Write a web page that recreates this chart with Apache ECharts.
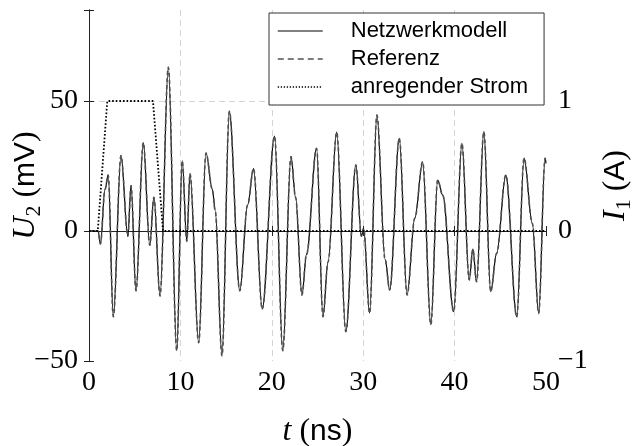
<!DOCTYPE html>
<html><head><meta charset="utf-8">
<script src="https://cdn.jsdelivr.net/npm/echarts@6/dist/echarts.min.js"></script>
<style>html,body{margin:0;padding:0;background:#fff}#c{width:632px;height:446px}</style>
</head><body><div id="c"></div>
<script>
// time axis (ns)
const timeNs = [0, 1.0, 1.25, 1.75, 2.1, 2.66, 3.5, 4.25, 4.6, 5.14, 5.94, 6.65, 7.1, 7.77, 8.68,
  9.6, 10.2, 10.7, 11.05, 12.0, 12.8, 13.5, 13.8, 14.55, 15.35, 16.5, 17.35, 18.0, 18.95, 20.3,
  21.2, 22.1, 22.6, 23.3, 23.8, 24.9, 25.6, 26.15, 27.1, 28.1, 29.2, 29.8, 30.05, 30.7, 31.5,
  32.4, 32.9, 33.95, 34.8, 35.65, 36.5, 37.4, 38.15, 38.7, 39.9, 40.8, 41.6, 42.0, 42.4, 43.2,
  43.95, 44.6, 45.6, 46.8, 47.6, 48.5, 49.2, 49.9, 50];
// U2 (mV), network model
const netzwerkmodell = [0, 0, -5, 16, 21.5, -33, 29, -2, 17.5, -23, 34, -5.5, 13, -25, 63,
  -46, 27, -4, 22, -43, 30, 16, 8, -48, 46, -23, 10, 24, -30, 36.5,
  -46, 28.6, 13, -24.6, -9, 31.8, -33, -12, 38, -38.7, 25.4, -2, 1, -31.6, 44.6,
  -11, -22.7, 35.6, -24.6, 5, 26.6, -36, 19.6, 13.8, -31, 33.7, -18.8, -7, -19.5, 38.2,
  -23.3, -8.6, 21.5, -33, 28, 3, -31.7, 28, 26];
// U2 (mV), reference
const referenz = [0, 0, -5, 16, 21.5, -33, 29, -2, 17.5, -23, 34, -5.5, 13, -25, 63,
  -46, 27, -4, 22, -43, 30, 16, 8, -48, 46, -23, 10, 24, -30, 36.5,
  -46, 28.6, 13, -24.6, -9, 31.8, -33, -12, 38, -38.7, 25.4, -2, 1, -31.6, 44.6,
  -11, -22.7, 35.6, -24.6, 5, 26.6, -36, 19.6, 13.8, -31, 33.7, -18.8, -7, -19.5, 38.2,
  -23.3, -8.6, 21.5, -33, 28, 3, -31.7, 28, 26];
// exciting current I1 (A)
const stromTime = [0, 0.96, 2.0, 7.0, 8.1, 50];
const stromA = [0, 0, 1, 1, 0, 0];
const seriesNames = ['Netzwerkmodell', 'Referenz', 'anregender Strom'];
const leftTicks = [-50, 0, 50];
const rightTicks = [-1, 0, 1];

const pairs = (xs, ys) => xs.map((x, i) => [x, ys[i]]);
const fmt = (v) => (v < 0 ? '\u2212' + Math.abs(v) : String(v));
const serif = 'Liberation Serif';
const sans = 'Liberation Sans';
const tickFont = { fontFamily: serif, fontSize: 28, color: '#000' };
const nameRich = {
  u: { fontFamily: serif, fontStyle: 'italic', fontSize: 32, lineHeight: 38, color: '#000' },
  s: { fontFamily: serif, fontSize: 22, lineHeight: 24, verticalAlign: 'bottom', color: '#000' },
  p: { fontFamily: serif, fontSize: 32, lineHeight: 38, color: '#000' },
  m: { fontFamily: sans, fontSize: 30, lineHeight: 38, color: '#000' }
};

const chart = echarts.init(document.getElementById('c'), null, { renderer: 'canvas' });
chart.setOption({
  animation: false,
  backgroundColor: '#fff',
  grid: { left: 89, right: 86, top: 10, bottom: 85, containLabel: false, outerBoundsMode: 'none' },
  legend: {
    orient: 'vertical', left: 269, top: 13,
    data: [
      { name: seriesNames[0], lineStyle: { width: 1, color: '#000' } },
      { name: seriesNames[1], lineStyle: { width: 1.3, type: [6, 4] } },
      { name: seriesNames[2], lineStyle: { width: 1.5, type: [1.3, 1.7] } }
    ],
    backgroundColor: '#fff', borderColor: '#333', borderWidth: 1, borderRadius: 0,
    padding: [7, 16, 7, 8], itemWidth: 45, itemHeight: 14, itemGap: 6,
    itemStyle: { opacity: 0, borderWidth: 0 },
    textStyle: { fontFamily: sans, fontSize: 22, color: '#000', padding: [0, 0, 0, 23] }
  },
  xAxis: [{
    type: 'value', min: 0, max: 50, interval: 10, position: 'bottom',
    name: '{u|t}{p| (}{m|ns}{p|)}', nameLocation: 'middle', nameGap: 52, nameMoveOverlap: false,
    nameTextStyle: { rich: nameRich },
    axisLine: { lineStyle: { color: '#222', width: 1 } },
    axisTick: { inside: true, length: 5, lineStyle: { color: '#222' } },
    axisLabel: Object.assign({ margin: 8, formatter: fmt }, tickFont),
    splitLine: { show: true, showMinLine: false, showMaxLine: false,
      lineStyle: { color: '#d4d4d4', type: [6, 4], width: 1 } }
  }, {
    type: 'value', min: 0, max: 50, interval: 10, position: 'top',
    axisLine: { lineStyle: { color: '#222', width: 1 } },
    axisTick: { inside: true, length: 5, lineStyle: { color: '#222' } },
    axisLabel: { show: false }, splitLine: { show: false }
  }],
  yAxis: [{
    type: 'value', min: -50, max: 85, interval: 50, position: 'left',
    name: '{u|U}{s|2}{p| (}{m|mV}{p|)}', nameLocation: 'middle', nameGap: 44, nameRotate: 90,
    nameMoveOverlap: false,
    nameTextStyle: { rich: nameRich },
    axisLine: { show: true, lineStyle: { color: '#222', width: 1 } },
    axisTick: { show: true, inside: true, length: 5, lineStyle: { color: '#222' } },
    axisLabel: Object.assign({ margin: 11,
      formatter: (v) => (leftTicks.indexOf(v) >= 0 ? fmt(v) : '') }, tickFont),
    splitLine: { show: true, showMinLine: false, showMaxLine: false,
      lineStyle: { color: '#d4d4d4', type: [6, 4], width: 1 } }
  }, {
    type: 'value', min: -1, max: 1.7, interval: 1, position: 'right',
    name: '{u|I}{s|1}{p| (}{m|A}{p|)}', nameLocation: 'middle', nameGap: 51, nameRotate: 90,
    nameMoveOverlap: false,
    nameTextStyle: { rich: nameRich },
    axisLine: { show: true, lineStyle: { color: '#222', width: 1 } },
    axisTick: { show: true, inside: true, length: 5, lineStyle: { color: '#222' } },
    axisLabel: Object.assign({ margin: 12,
      formatter: (v) => (rightTicks.indexOf(v) >= 0 ? fmt(v) : '') }, tickFont),
    splitLine: { show: false }
  }],
  series: [{
    name: seriesNames[0], type: 'line', xAxisIndex: 0, yAxisIndex: 0,
    data: pairs(timeNs, netzwerkmodell), symbol: 'none', smooth: 0.35, smoothMonotone: 'x',
    lineStyle: { color: '#000', width: 1.2 }, itemStyle: { color: '#000' }, z: 2
  }, {
    name: seriesNames[1], type: 'line', xAxisIndex: 0, yAxisIndex: 0,
    data: pairs(timeNs, referenz), symbol: 'none', smooth: 0.35, smoothMonotone: 'x',
    lineStyle: { color: '#505050', width: 1.6, type: [4, 3] }, itemStyle: { color: '#505050' }, z: 3
  }, {
    name: seriesNames[2], type: 'line', xAxisIndex: 0, yAxisIndex: 1,
    data: pairs(stromTime, stromA), symbol: 'none',
    lineStyle: { color: '#000', width: 1.8, type: [1.6, 2] }, itemStyle: { color: '#000' }, z: 4
  }]
});
</script>
</body></html>
